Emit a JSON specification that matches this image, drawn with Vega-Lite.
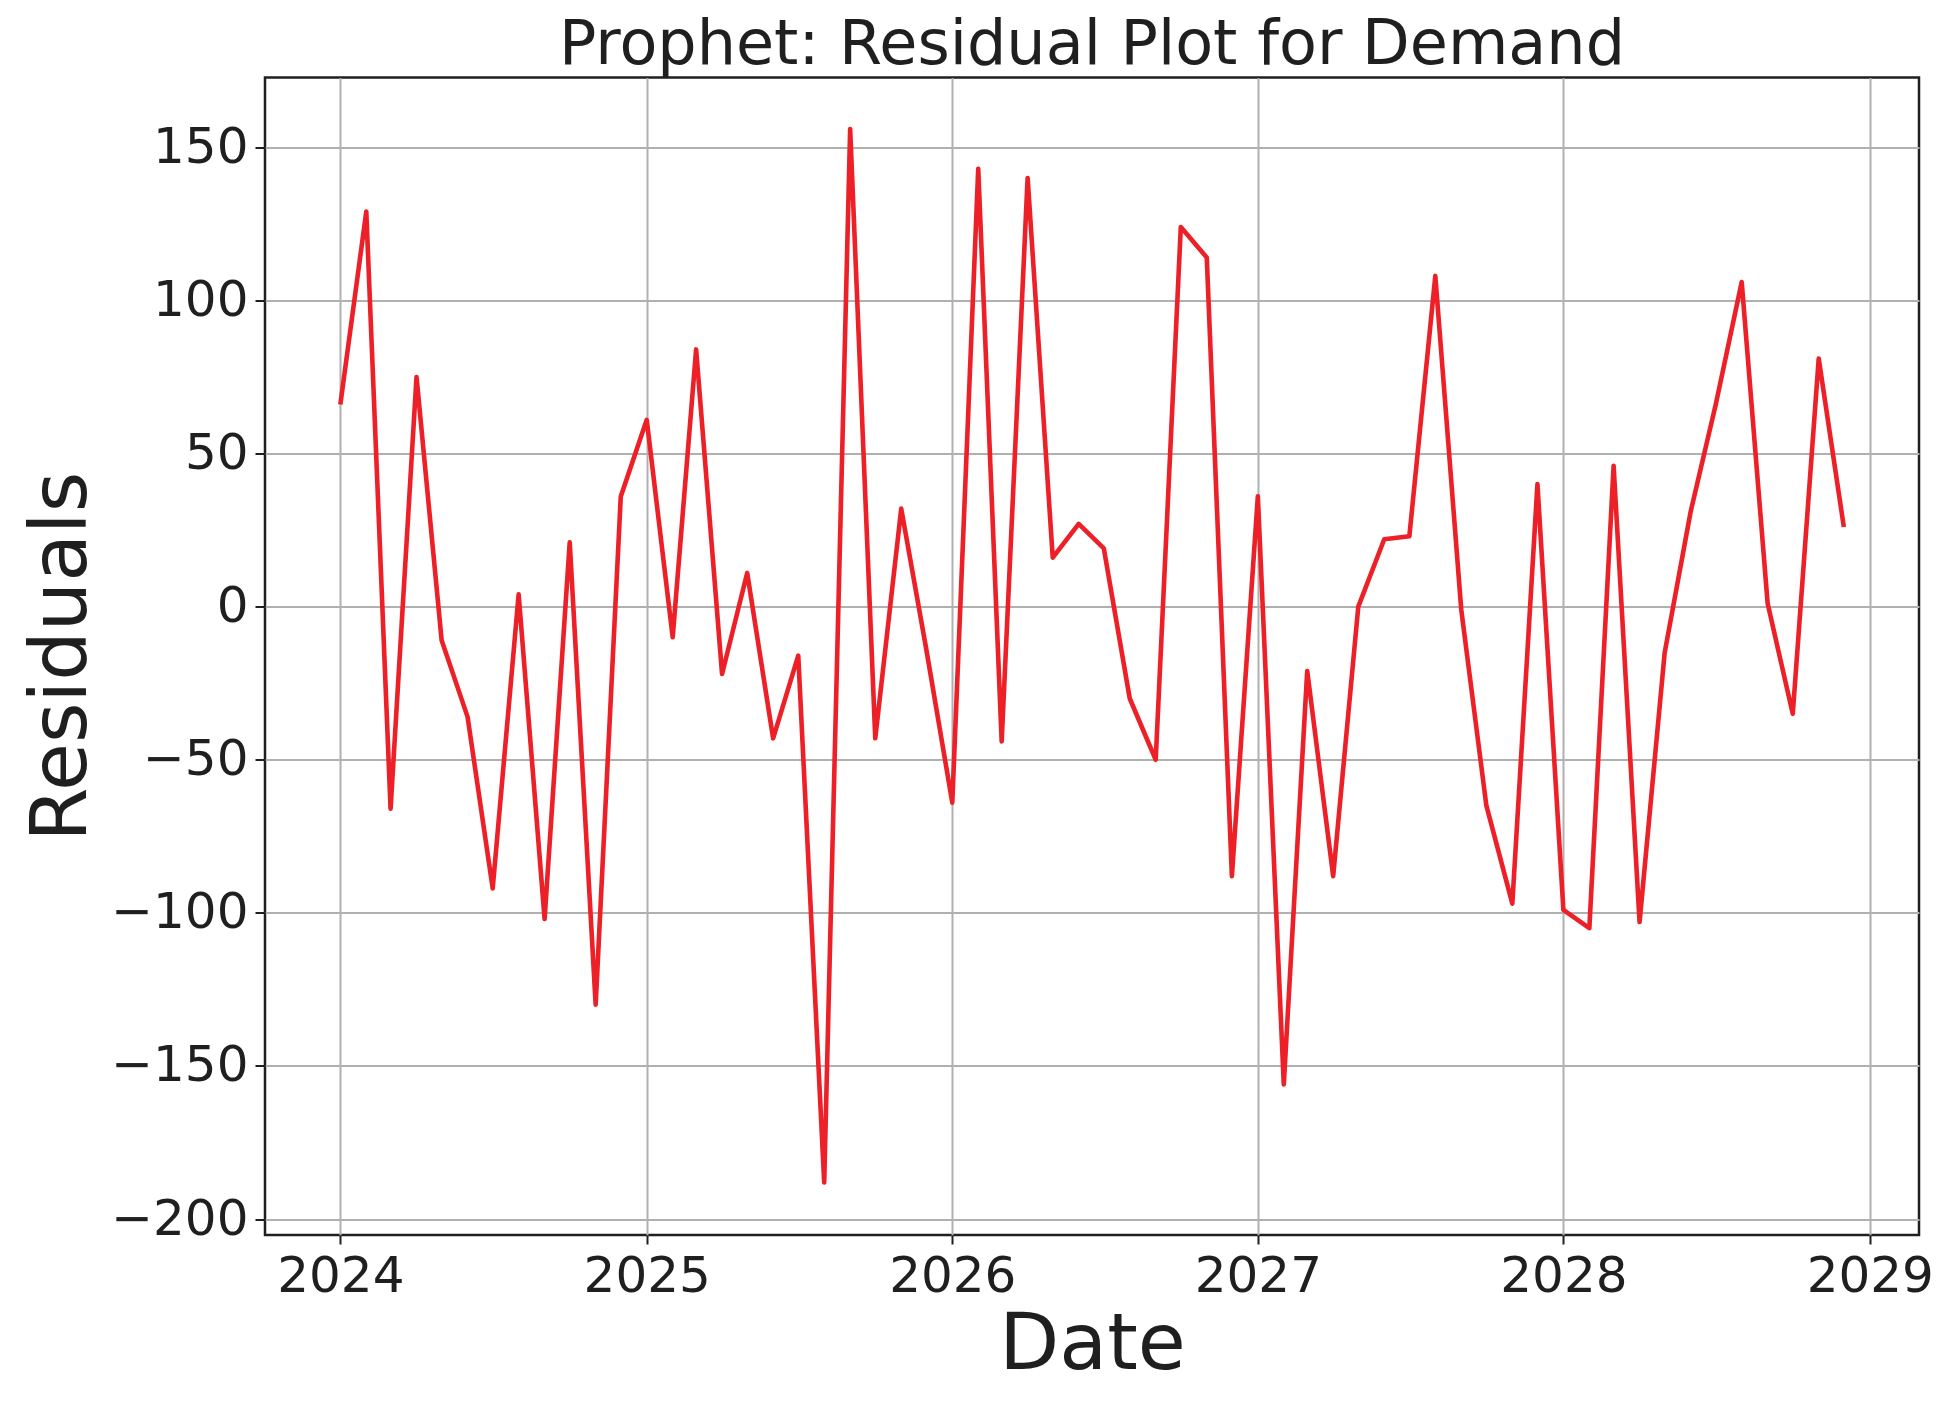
{
  "$schema": "https://vega.github.io/schema/vega-lite/v6.json",
  "width": 1654,
  "height": 1157.5,
  "autosize": {"type": "none"},
  "padding": {"left": 265, "top": 77.5, "right": 41, "bottom": 171},
  "background": "white",
  "title": {
    "text": "Prophet: Residual Plot for Demand",
    "fontSize": 62,
    "font": "DejaVu Sans",
    "fontWeight": "normal",
    "color": "#1f1f1f",
    "anchor": "middle",
    "frame": "group",
    "offset": 1
  },
  "data": {
    "values": [
      {"date": "2024-01-01", "residual": 66},
      {"date": "2024-02-01", "residual": 129},
      {"date": "2024-03-01", "residual": -66},
      {"date": "2024-04-01", "residual": 75},
      {"date": "2024-05-01", "residual": -11},
      {"date": "2024-06-01", "residual": -36},
      {"date": "2024-07-01", "residual": -92},
      {"date": "2024-08-01", "residual": 4},
      {"date": "2024-09-01", "residual": -102},
      {"date": "2024-10-01", "residual": 21},
      {"date": "2024-11-01", "residual": -130},
      {"date": "2024-12-01", "residual": 36},
      {"date": "2025-01-01", "residual": 61},
      {"date": "2025-02-01", "residual": -10},
      {"date": "2025-03-01", "residual": 84},
      {"date": "2025-04-01", "residual": -22},
      {"date": "2025-05-01", "residual": 11},
      {"date": "2025-06-01", "residual": -43},
      {"date": "2025-07-01", "residual": -16},
      {"date": "2025-08-01", "residual": -188},
      {"date": "2025-09-01", "residual": 156},
      {"date": "2025-10-01", "residual": -43},
      {"date": "2025-11-01", "residual": 32},
      {"date": "2025-12-01", "residual": -14},
      {"date": "2026-01-01", "residual": -64},
      {"date": "2026-02-01", "residual": 143},
      {"date": "2026-03-01", "residual": -44},
      {"date": "2026-04-01", "residual": 140},
      {"date": "2026-05-01", "residual": 16},
      {"date": "2026-06-01", "residual": 27},
      {"date": "2026-07-01", "residual": 19},
      {"date": "2026-08-01", "residual": -30},
      {"date": "2026-09-01", "residual": -50},
      {"date": "2026-10-01", "residual": 124},
      {"date": "2026-11-01", "residual": 114},
      {"date": "2026-12-01", "residual": -88},
      {"date": "2027-01-01", "residual": 36},
      {"date": "2027-02-01", "residual": -156},
      {"date": "2027-03-01", "residual": -21},
      {"date": "2027-04-01", "residual": -88},
      {"date": "2027-05-01", "residual": 0},
      {"date": "2027-06-01", "residual": 22},
      {"date": "2027-07-01", "residual": 23},
      {"date": "2027-08-01", "residual": 108},
      {"date": "2027-09-01", "residual": -1},
      {"date": "2027-10-01", "residual": -65},
      {"date": "2027-11-01", "residual": -97},
      {"date": "2027-12-01", "residual": 40},
      {"date": "2028-01-01", "residual": -99},
      {"date": "2028-02-01", "residual": -105},
      {"date": "2028-03-01", "residual": 46},
      {"date": "2028-04-01", "residual": -103},
      {"date": "2028-05-01", "residual": -15},
      {"date": "2028-06-01", "residual": 31},
      {"date": "2028-07-01", "residual": 66},
      {"date": "2028-08-01", "residual": 106},
      {"date": "2028-09-01", "residual": 1},
      {"date": "2028-10-01", "residual": -35},
      {"date": "2028-11-01", "residual": 81},
      {"date": "2028-12-01", "residual": 26}
    ]
  },
  "mark": {"type": "line", "color": "#ed1f27", "strokeWidth": 4.6, "strokeJoin": "round", "strokeCap": "butt"},
  "encoding": {
    "x": {
      "field": "date",
      "type": "temporal",
      "scale": {
        "type": "utc",
        "domain": [
          {"year": 2023, "month": 10, "date": 3, "utc": true},
          {"year": 2029, "month": 2, "date": 28, "hours": 19, "utc": true}
        ]
      },
      "axis": {
        "title": "Date",
        "titleFontSize": 78,
        "titleFont": "DejaVu Sans",
        "titleFontWeight": "normal",
        "titleColor": "#1f1f1f",
        "titlePadding": 5,
        "labelFontSize": 50,
        "labelFont": "DejaVu Sans",
        "labelColor": "#1f1f1f",
        "labelPadding": 7,
        "labelFlush": false,
        "labelOverlap": false,
        "tickSize": 9,
        "tickWidth": 2,
        "tickColor": "#1f1f1f",
        "format": "%Y",
        "tickCount": {"interval": "year", "step": 1},
        "grid": true,
        "gridColor": "#b0b0b0",
        "gridWidth": 2,
        "domain": false
      }
    },
    "y": {
      "field": "residual",
      "type": "quantitative",
      "scale": {"domain": [-205.2, 172.8], "nice": false, "zero": false},
      "axis": {
        "title": "Residuals",
        "titleFontSize": 78,
        "titleFont": "DejaVu Sans",
        "titleFontWeight": "normal",
        "titleColor": "#1f1f1f",
        "titlePadding": 9,
        "labelFontSize": 50,
        "labelFont": "DejaVu Sans",
        "labelColor": "#1f1f1f",
        "labelPadding": 7,
        "labelFlush": false,
        "labelOverlap": false,
        "tickSize": 10,
        "tickWidth": 2,
        "tickColor": "#1f1f1f",
        "values": [-200, -150, -100, -50, 0, 50, 100, 150],
        "grid": true,
        "gridColor": "#b0b0b0",
        "gridWidth": 2,
        "domain": false
      }
    }
  },
  "config": {
    "view": {"stroke": "#1f1f1f", "strokeWidth": 2.5}
  }
}
